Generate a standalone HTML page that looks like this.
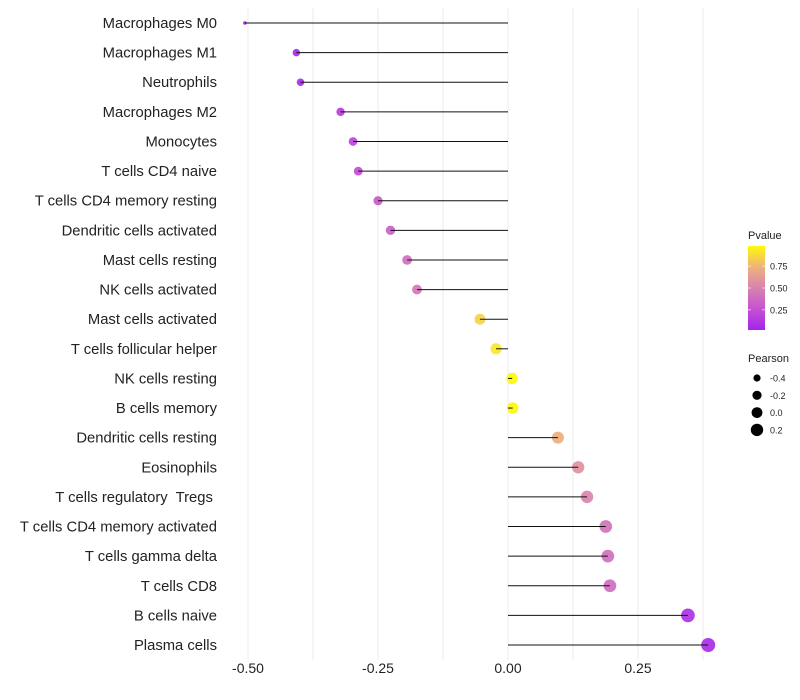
<!DOCTYPE html>
<html><head><meta charset="utf-8"><style>
body{margin:0;background:#fff;}
svg{display:block;font-family:"Liberation Sans",Arial,sans-serif;}
text{white-space:pre;}
</style></head><body>
<svg id="chart" width="800" height="700"></svg>
<script>
const categories=["Macrophages M0","Macrophages M1","Neutrophils","Macrophages M2","Monocytes","T cells CD4 naive","T cells CD4 memory resting","Dendritic cells activated","Mast cells resting","NK cells activated","Mast cells activated","T cells follicular helper","NK cells resting","B cells memory","Dendritic cells resting","Eosinophils","T cells regulatory  Tregs ","T cells CD4 memory activated","T cells gamma delta","T cells CD8","B cells naive","Plasma cells"];
const pearson=[-0.506,-0.407,-0.399,-0.322,-0.298,-0.288,-0.25,-0.226,-0.194,-0.175,-0.054,-0.023,0.008,0.009,0.096,0.135,0.152,0.188,0.192,0.196,0.346,0.385];
const pvalue=[0.01,0.05,0.06,0.16,0.2,0.23,0.3,0.34,0.4,0.44,0.85,0.92,0.98,0.98,0.72,0.58,0.52,0.42,0.41,0.4,0.1,0.07];
const xTicks=[-0.5,-0.25,0,0.25];
const xTickLabels=["-0.50","-0.25","0.00","0.25"];
const minorTicks=[-0.375,-0.125,0.125,0.375];
const pLegend=[0.25,0.5,0.75];
const sizeLegend=[-0.4,-0.2,0.0,0.2];

const NS="http://www.w3.org/2000/svg";
const svg=document.getElementById('chart');
function el(t,a,p){const e=document.createElementNS(NS,t);for(const k in a)e.setAttribute(k,a[k]);(p||svg).appendChild(e);return e;}
const x=v=>508+v*520;
const y=i=>23+i*((645-23)/21);
const rad=v=>v<-0.45?1.8:Math.sqrt(Math.max(1,32+44*v));
function lerp(a,b,t){return a.map((c,i)=>Math.round(c+(b[i]-c)*t));}
const stops=[[160,32,240],[196,80,210],[216,130,176],[240,180,120],[255,255,0]];
function col(p){p=Math.max(0,Math.min(1,p));const k=Math.min(3,Math.floor(p*4));return `rgb(${lerp(stops[k],stops[k+1],p*4-k)})`;}

minorTicks.concat(xTicks).forEach(v=>{
  const g=el('line',{x1:x(v),x2:x(v),y1:8,y2:660,stroke:'#ebebeb','stroke-width':1});
  
  
});
xTicks.forEach((v,i)=>{
  const t=el('text',{x:x(v),y:673,'text-anchor':'middle','font-size':14,fill:'#222'});
  t.textContent=xTickLabels[i];
  
  
});
categories.forEach((c,i)=>{
  const t=el('text',{x:217,y:y(i)+5,'text-anchor':'end','font-size':14.8,fill:'#222'});
  t.textContent=c;
  
  
  const pt=el('circle',{cx:x(pearson[i]),cy:y(i),r:rad(pearson[i]),fill:col(pvalue[i]),opacity:0.92});
  
  
  const ln=el('line',{x1:x(0),x2:x(pearson[i]),y1:y(i),y2:y(i),stroke:'#111','stroke-width':1});
  
  
});
const defs=el('defs',{});
const lg=el('linearGradient',{id:'pg',x1:0,y1:1,x2:0,y2:0},defs);
[0,0.25,0.5,0.75,1].forEach(o=>el('stop',{offset:o,'stop-color':col(0.02+o*0.96)},lg));
const lt=el('text',{x:748,y:239,'font-size':11,fill:'#222'});lt.textContent='Pvalue';


const bar=el('rect',{x:748,y:246,width:17,height:84,fill:'url(#pg)'});


const py=p=>330-(p-0.02)/0.96*84;
pLegend.forEach(p=>{
  el('line',{x1:748,x2:751,y1:py(p),y2:py(p),stroke:'#fff','stroke-width':0.6});
  el('line',{x1:762,x2:765,y1:py(p),y2:py(p),stroke:'#fff','stroke-width':0.6});
  const t=el('text',{x:770,y:py(p)+3.5,'font-size':9,fill:'#222'});t.textContent=p.toFixed(2);
  
  
});
const st=el('text',{x:748,y:362,'font-size':11,fill:'#222'});st.textContent='Pearson';


sizeLegend.forEach((v,i)=>{
  const cy=378+i*17.3;
  const c=el('circle',{cx:757,cy:cy,r:[3.6,4.6,5.4,6.2][i],fill:'#000'});
  
  
  const t=el('text',{x:770,y:cy+3.5,'font-size':9,fill:'#222'});t.textContent=v.toFixed(1);
  
  
});
</script>
</body></html>
